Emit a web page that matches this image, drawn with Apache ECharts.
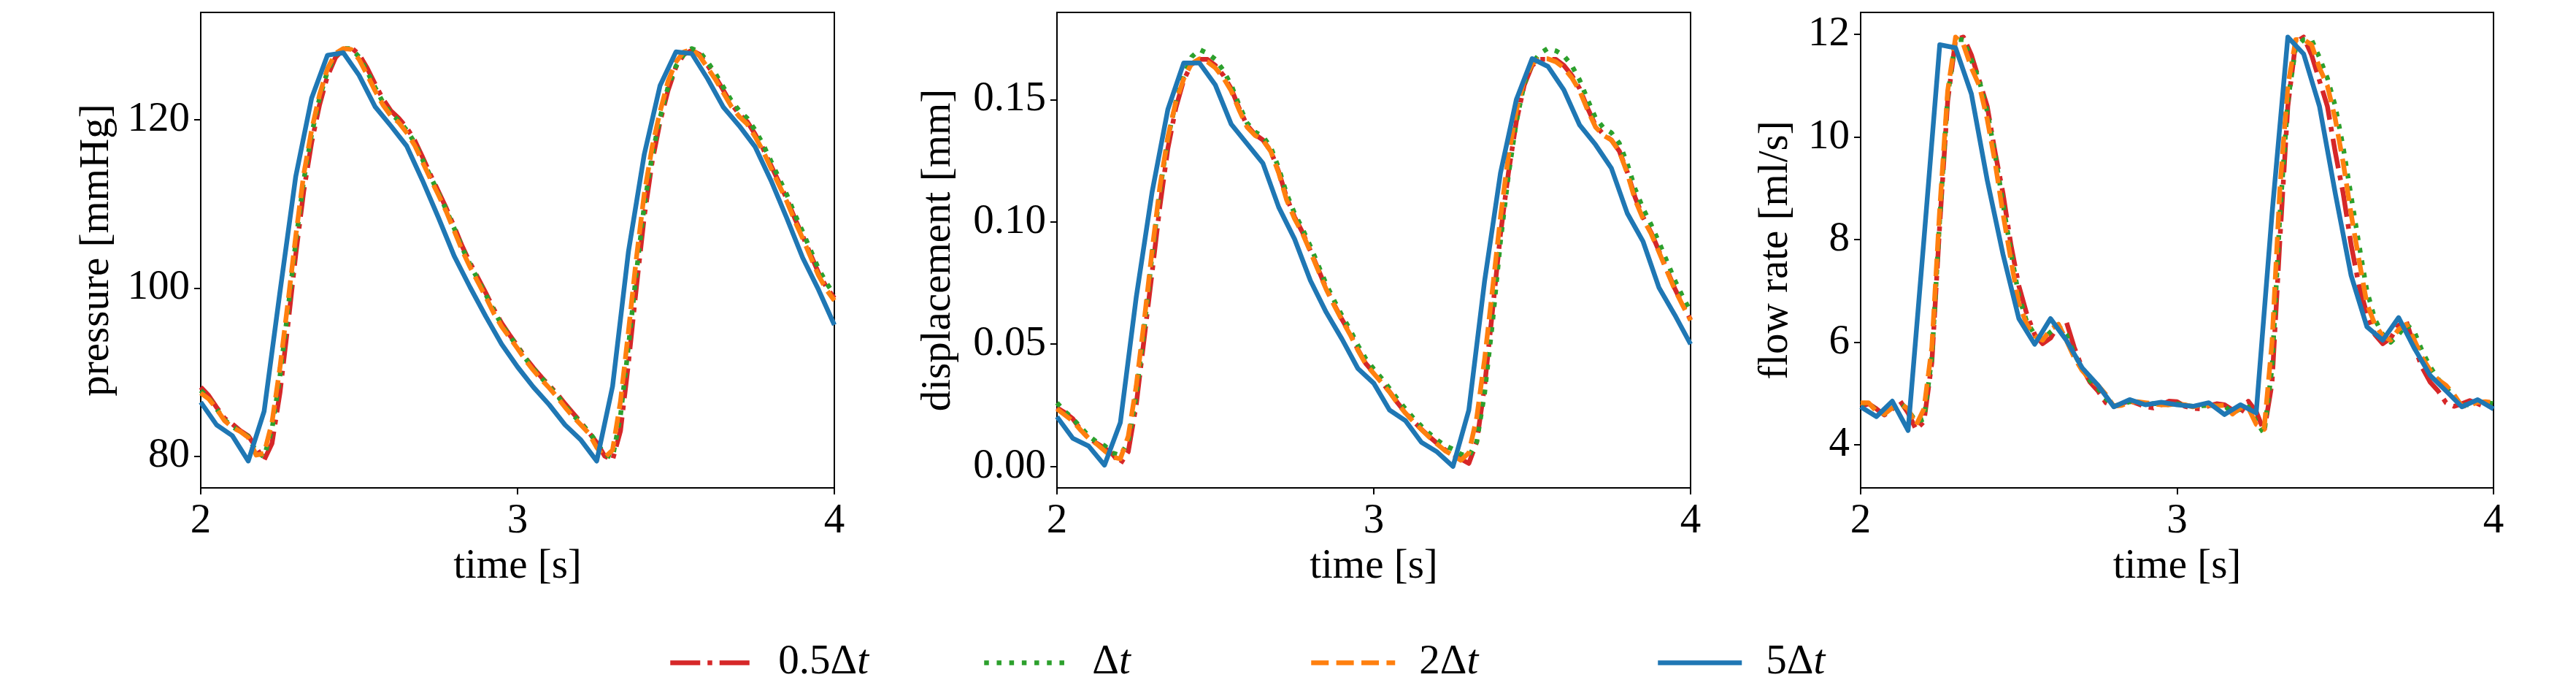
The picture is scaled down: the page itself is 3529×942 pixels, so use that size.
<!DOCTYPE html>
<html>
<head>
<meta charset="utf-8">
<script src="https://cdn.jsdelivr.net/npm/echarts@6/dist/echarts.min.js"></script>
<style>html,body{margin:0;padding:0;background:#fff;}#c{width:3529px;height:942px;}</style>
</head>
<body>
<div id="c"></div>
<script>
// ---------------- data ----------------
const seriesNames = ['0.5Δt', 'Δt', '2Δt', '5Δt'];
const xTicks = [2, 3, 4];
const pressureTicks = [80, 100, 120];
const displacementTicks = [0, 0.05, 0.10, 0.15];
const flowTicks = [4, 6, 8, 10, 12];

const timeFine = [2.000,2.025,2.050,2.075,2.100,2.125,2.150,2.175,2.200,2.225,2.250,2.275,2.300,2.325,2.350,2.375,2.400,2.425,2.450,2.475,2.500,2.525,2.550,2.575,2.600,2.625,2.650,2.675,2.700,2.725,2.750,2.775,2.800,2.825,2.850,2.875,2.900,2.925,2.950,2.975,3.000,3.025,3.050,3.075,3.100,3.125,3.150,3.175,3.200,3.225,3.250,3.275,3.300,3.325,3.350,3.375,3.400,3.425,3.450,3.475,3.500,3.525,3.550,3.575,3.600,3.625,3.650,3.675,3.700,3.725,3.750,3.775,3.800,3.825,3.850,3.875,3.900,3.925,3.950,3.975,4.000];
const timeCoarse = [2.00,2.05,2.10,2.15,2.20,2.25,2.30,2.35,2.40,2.45,2.50,2.55,2.60,2.65,2.70,2.75,2.80,2.85,2.90,2.95,3.00,3.05,3.10,3.15,3.20,3.25,3.30,3.35,3.40,3.45,3.50,3.55,3.60,3.65,3.70,3.75,3.80,3.85,3.90,3.95,4.00];

// pressure [mmHg]
const pressureHalf = [88.2,87.2,85.8,84.5,83.8,83.0,82.4,81.0,79.5,81.5,87.5,95.5,104.0,111.5,117.3,121.8,125.2,127.4,128.4,128.6,127.8,126.2,124.3,122.5,121.1,120.2,119.1,117.6,115.6,113.5,111.5,109.5,107.3,105.0,103.0,101.2,99.4,97.5,95.8,94.4,93.1,91.7,90.5,89.4,88.4,87.4,86.2,85.1,84.0,82.8,81.6,80.0,79.5,83.0,91.0,100.0,108.5,115.0,119.8,123.5,126.3,127.8,128.3,127.8,126.5,125.1,123.5,121.9,120.7,119.8,118.3,116.6,114.6,112.6,110.6,108.3,106.2,104.0,101.8,100.1,98.8];
const pressureOne = [87.8,86.9,85.6,84.3,83.5,82.9,82.3,80.5,79.9,83.2,89.5,97.3,105.5,112.8,118.3,122.6,125.8,127.7,128.5,128.5,127.5,125.8,123.9,122.1,120.8,119.9,118.8,117.3,115.3,113.3,111.3,109.3,107.1,104.8,102.8,101.0,99.2,97.3,95.6,94.3,93.0,91.6,90.4,89.3,88.3,87.2,86.0,84.9,83.9,82.9,81.6,80.2,79.8,84.8,93.0,101.8,109.8,115.8,120.3,123.9,126.4,127.8,128.5,128.1,126.9,125.5,123.9,122.3,121.1,120.2,118.8,117.1,115.1,113.1,111.1,108.8,106.7,104.5,102.3,100.6,99.2];
const pressureTwo = [87.5,86.8,85.6,84.2,83.4,82.9,82.2,80.1,80.3,84.0,90.5,98.2,106.2,113.5,118.8,123.0,126.1,127.9,128.5,128.4,127.2,125.4,123.5,121.8,120.5,119.7,118.5,117.0,115.0,113.0,111.1,109.1,106.8,104.5,102.5,100.7,98.9,97.0,95.4,94.1,92.8,91.4,90.2,89.1,88.1,87.0,85.8,84.7,83.7,82.7,81.0,79.8,80.7,86.5,94.8,103.5,111.2,116.8,121.0,124.6,126.9,128.1,128.4,127.6,126.2,124.8,123.2,121.6,120.4,119.5,118.0,116.3,114.3,112.3,110.3,108.0,105.9,103.7,101.5,99.8,98.5];
const pressureFive = [86.4,83.7,82.4,79.4,85.3,99.5,113.3,122.6,127.7,128.0,125.3,121.6,119.3,116.9,112.8,108.4,103.8,100.1,96.6,93.3,90.6,88.2,86.1,83.7,81.9,79.4,88.3,104.3,115.9,124.1,128.1,127.9,124.9,121.5,119.3,116.8,112.8,108.3,103.6,99.8,95.6];

// displacement [mm]
const dispHalf = [0.0240,0.0220,0.0195,0.0150,0.0115,0.0095,0.0075,0.0050,0.0010,0.0060,0.0250,0.0520,0.0790,0.1065,0.1300,0.1465,0.1580,0.1645,0.1665,0.1665,0.1640,0.1600,0.1545,0.1465,0.1395,0.1358,0.1335,0.1290,0.1205,0.1100,0.1020,0.0958,0.0882,0.0805,0.0728,0.0662,0.0600,0.0545,0.0478,0.0420,0.0383,0.0345,0.0305,0.0260,0.0220,0.0185,0.0152,0.0122,0.0094,0.0068,0.0048,0.0030,0.0012,0.0100,0.0330,0.0640,0.0950,0.1200,0.1410,0.1560,0.1640,0.1665,0.1665,0.1665,0.1640,0.1600,0.1545,0.1465,0.1395,0.1358,0.1335,0.1290,0.1205,0.1100,0.1020,0.0958,0.0882,0.0805,0.0728,0.0662,0.0600];
const dispOne = [0.0260,0.0225,0.0195,0.0160,0.0125,0.0100,0.0085,0.0055,0.0045,0.0100,0.0290,0.0560,0.0860,0.1130,0.1340,0.1490,0.1600,0.1675,0.1705,0.1690,0.1665,0.1620,0.1560,0.1478,0.1405,0.1368,0.1350,0.1305,0.1220,0.1115,0.1035,0.0972,0.0900,0.0822,0.0745,0.0678,0.0616,0.0560,0.0495,0.0440,0.0398,0.0360,0.0318,0.0275,0.0235,0.0198,0.0165,0.0135,0.0108,0.0085,0.0070,0.0050,0.0040,0.0100,0.0300,0.0590,0.0920,0.1190,0.1410,0.1565,0.1650,0.1690,0.1710,0.1700,0.1680,0.1640,0.1580,0.1500,0.1425,0.1385,0.1365,0.1322,0.1240,0.1135,0.1055,0.0990,0.0918,0.0840,0.0762,0.0695,0.0633];
const dispTwo = [0.0235,0.0210,0.0185,0.0148,0.0115,0.0092,0.0064,0.0038,0.0031,0.0123,0.0327,0.0591,0.0880,0.1145,0.1347,0.1490,0.1585,0.1648,0.1667,0.1655,0.1630,0.1590,0.1536,0.1458,0.1388,0.1354,0.1335,0.1288,0.1200,0.1090,0.1013,0.0953,0.0878,0.0800,0.0724,0.0659,0.0597,0.0540,0.0475,0.0418,0.0380,0.0342,0.0304,0.0258,0.0218,0.0183,0.0151,0.0120,0.0091,0.0064,0.0045,0.0025,0.0055,0.0200,0.0440,0.0727,0.1020,0.1270,0.1455,0.1580,0.1647,0.1668,0.1667,0.1655,0.1630,0.1590,0.1536,0.1458,0.1388,0.1354,0.1335,0.1288,0.1200,0.1090,0.1013,0.0953,0.0878,0.0800,0.0724,0.0659,0.0597];
const dispFive = [0.0203,0.0115,0.0083,0.0005,0.0179,0.0690,0.1120,0.1460,0.1650,0.1650,0.1560,0.1400,0.1320,0.1240,0.1060,0.0930,0.0760,0.0630,0.0520,0.0400,0.0340,0.0230,0.0187,0.0099,0.0059,0.0000,0.0230,0.0760,0.1200,0.1500,0.1668,0.1636,0.1540,0.1396,0.1316,0.1220,0.1036,0.0920,0.0732,0.0620,0.0500];

// flow rate [ml/s]
const flowHalf = [4.74,4.80,4.70,4.58,4.70,4.85,4.62,4.30,4.45,5.60,8.30,10.70,11.90,11.95,11.60,11.10,10.60,9.70,8.90,7.90,7.10,6.55,6.15,5.97,6.08,6.33,6.40,5.90,5.50,5.22,5.05,4.82,4.75,4.80,4.86,4.80,4.74,4.72,4.78,4.85,4.84,4.75,4.71,4.70,4.76,4.80,4.78,4.68,4.62,4.85,4.65,4.26,5.20,8.00,10.60,11.85,11.95,11.60,11.10,10.60,9.70,8.90,7.90,7.10,6.55,6.15,5.97,6.08,6.33,6.40,5.90,5.50,5.22,5.05,4.82,4.75,4.80,4.86,4.80,4.74,4.78];
const flowOne = [4.80,4.82,4.66,4.60,4.70,4.82,4.68,4.45,4.50,5.70,8.40,10.80,11.90,11.90,11.50,11.10,10.50,9.65,8.70,7.75,6.90,6.40,6.15,6.05,6.20,6.32,6.15,5.78,5.48,5.25,5.10,4.90,4.76,4.78,4.84,4.82,4.80,4.80,4.80,4.78,4.80,4.77,4.75,4.76,4.77,4.76,4.76,4.62,4.70,4.74,4.45,4.22,5.50,8.50,10.70,11.75,11.90,11.90,11.55,11.15,10.60,9.80,8.85,7.90,7.00,6.45,6.15,6.00,6.15,6.35,6.20,5.82,5.52,5.28,5.12,4.92,4.78,4.78,4.84,4.83,4.80];
const flowTwo = [4.82,4.82,4.65,4.60,4.72,4.80,4.70,4.38,4.70,5.90,8.60,10.90,11.95,11.80,11.35,11.00,10.35,9.50,8.50,7.60,6.75,6.35,6.12,6.04,6.25,6.35,6.04,5.70,5.45,5.27,5.16,4.98,4.75,4.77,4.83,4.84,4.82,4.80,4.78,4.78,4.80,4.78,4.74,4.77,4.77,4.76,4.77,4.60,4.72,4.72,4.40,4.30,6.00,9.00,11.00,11.90,11.90,11.80,11.35,11.00,10.35,9.50,8.50,7.60,6.75,6.35,6.12,6.04,6.25,6.35,6.04,5.70,5.45,5.27,5.16,4.98,4.75,4.77,4.83,4.84,4.82];
const flowFive = [4.74,4.55,4.85,4.28,8.00,11.80,11.74,10.84,9.16,7.71,6.46,5.96,6.46,6.04,5.50,5.16,4.74,4.88,4.78,4.83,4.78,4.75,4.82,4.59,4.78,4.62,8.50,11.95,11.62,10.60,8.90,7.30,6.30,6.04,6.48,5.88,5.35,5.05,4.74,4.88,4.70];

// ---------------- chart ----------------
const FONT = 'Liberation Serif';
const FS = 57;
const LW = 6.5;
const colors = {'0.5Δt': '#d62728', 'Δt': '#2ca02c', '2Δt': '#ff7f0e', '5Δt': '#1f77b4'};
const dashes = {'0.5Δt': [41, 10, 6.5, 10], 'Δt': [6.5, 10.7], '2Δt': [24, 10.4], '5Δt': 'solid'};

function zip(t, v) { return t.map((x, i) => [x, v[i]]); }

const grids = [
  {left: 275, top: 17, width: 868, height: 651},
  {left: 1448, top: 17, width: 868, height: 651},
  {left: 2549, top: 17, width: 867, height: 651}
].map(g => Object.assign(g, {show: true, borderColor: '#000', borderWidth: 2, backgroundColor: 'transparent'}));

const axisText = {fontFamily: FONT, fontSize: FS, color: '#000'};

const xAxes = [0, 1, 2].map(i => ({
  type: 'value', gridIndex: i, min: 2, max: 4, interval: 1,
  name: 'time [s]', nameLocation: 'middle', nameGap: 74,
  nameTextStyle: axisText,
  axisLine: {show: true, onZero: false, lineStyle: {color: '#000', width: 2}},
  axisTick: {show: true, inside: false, length: 9, customValues: xTicks, lineStyle: {color: '#000', width: 2}},
  axisLabel: Object.assign({margin: 18, customValues: xTicks}, axisText),
  splitLine: {show: false}
}));

function yAxis(i, name, min, max, ticks, gap, fmt) {
  return {
    type: 'value', gridIndex: i, min: min, max: max,
    name: name, nameLocation: 'middle', nameGap: gap,
    nameTextStyle: axisText,
    axisLine: {show: true, onZero: false, lineStyle: {color: '#000', width: 2}},
    axisTick: {show: true, inside: false, length: 9, customValues: ticks, lineStyle: {color: '#000', width: 2}},
    axisLabel: Object.assign({margin: 15, customValues: ticks, formatter: fmt}, axisText),
    splitLine: {show: false}
  };
}

const yAxes = [
  yAxis(0, 'pressure [mmHg]', 76.2, 132.8, pressureTicks, 113, v => String(Math.round(v))),
  yAxis(1, 'displacement [mm]', -0.0088, 0.1857, displacementTicks, 133, v => v.toFixed(2)),
  yAxis(2, 'flow rate [ml/s]', 3.16, 12.43, flowTicks, 87, v => String(Math.round(v)))
];

const panels = [
  {'0.5Δt': pressureHalf, 'Δt': pressureOne, '2Δt': pressureTwo, '5Δt': pressureFive},
  {'0.5Δt': dispHalf, 'Δt': dispOne, '2Δt': dispTwo, '5Δt': dispFive},
  {'0.5Δt': flowHalf, 'Δt': flowOne, '2Δt': flowTwo, '5Δt': flowFive}
];

const series = [];
panels.forEach((p, i) => {
  seriesNames.forEach(name => {
    const t = name === '5Δt' ? timeCoarse : timeFine;
    series.push({
      name: name, type: 'line', xAxisIndex: i, yAxisIndex: i,
      data: zip(t, p[name]),
      symbol: 'none', showSymbol: false, smooth: false,
      lineStyle: {color: colors[name], width: LW, type: dashes[name], join: 'round', cap: 'butt'},
      itemStyle: {color: colors[name]},
      emphasis: {disabled: true},
      animation: false
    });
  });
});

const legendLefts = {'0.5Δt': 915, 'Δt': 1345, '2Δt': 1793, '5Δt': 2268};
const legends = seriesNames.map(name => ({
  data: [name], left: legendLefts[name], top: 879,
  orient: 'horizontal', itemWidth: 115, itemHeight: 20, padding: 0,
  selectedMode: false,
  lineStyle: {width: LW},
  itemStyle: {opacity: 0},
  formatter: n => '{a|' + n.slice(0, -1) + '}{b|t}',
  textStyle: {
    fontFamily: FONT, fontSize: FS, color: '#000', padding: [0, 0, 0, 28],
    rich: {
      a: {fontFamily: FONT, fontSize: FS, color: '#000'},
      b: {fontFamily: FONT, fontSize: FS, color: '#000', fontStyle: 'italic'}
    }
  }
}));

const chart = echarts.init(document.getElementById('c'), null, {renderer: 'canvas'});
chart.setOption({
  backgroundColor: '#fff',
  animation: false,
  grid: grids,
  xAxis: xAxes,
  yAxis: yAxes,
  legend: legends,
  series: series
});
</script>
</body>
</html>
